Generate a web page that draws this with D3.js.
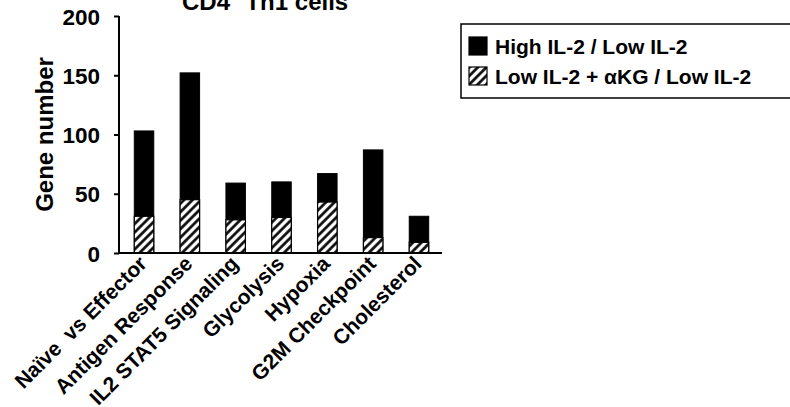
<!DOCTYPE html>
<html>
<head>
<meta charset="utf-8">
<script src="https://cdn.jsdelivr.net/npm/d3@7"></script>
<style>
  html, body { margin: 0; padding: 0; background: #fff; }
  svg { display: block; font-family: "Liberation Sans", Arial, sans-serif; font-weight: bold; }
</style>
</head>
<body>
<svg id="chart" width="790" height="407"></svg>
<script>
// Gene-set categories and gene counts per comparison
const categories = ["Naïve  vs Effector", "Antigen Response", "IL2 STAT5 Signaling", "Glycolysis", "Hypoxia", "G2M Checkpoint", "Cholesterol"];
const highVsLow = [103, 152, 59, 60, 67, 87, 31];
const akgVsLow = [31, 45, 28, 30, 43, 13, 9];
const seriesNames = ["High IL-2 / Low IL-2", "Low IL-2 + αKG / Low IL-2"];
const yTicks = [0, 50, 100, 150, 200];

const svg = d3.select("#chart");

// hatch fill for the αKG series
const defs = svg.append("defs");
const pat = defs.append("pattern")
  .attr("id", "hatch")
  .attr("patternUnits", "userSpaceOnUse")
  .attr("width", 6).attr("height", 6)
  .attr("patternTransform", "rotate(45)");
pat.append("rect").attr("width", 6).attr("height", 6).attr("fill", "#fff");
pat.append("line").attr("x1", 1.5).attr("y1", 0).attr("x2", 1.5).attr("y2", 6)
  .attr("stroke", "#000").attr("stroke-width", 2.6);

const x = d3.scaleBand().domain(categories).range([121, 442]).paddingInner(0.575).paddingOuter(0.29);
const y = d3.scaleLinear().domain([0, 200]).range([253, 16]);

// title (partly above the top edge)
const title = svg.append("text").attr("x", 182).attr("y", 9.5).attr("font-size", 24);
title.append("tspan").text("CD4");
title.append("tspan").attr("dy", -9).attr("font-size", 15).text("+");
title.append("tspan").attr("dy", 9).text(" Th1 cells");

// bars: total count in black, αKG count hatched from the baseline
const g = svg.append("g");
g.selectAll("rect.high").data(categories).join("rect")
  .attr("class", "high")
  .attr("x", d => x(d)).attr("width", x.bandwidth())
  .attr("y", (d, i) => y(highVsLow[i])).attr("height", (d, i) => y(0) - y(highVsLow[i]))
  .attr("fill", "#000").attr("stroke", "#000").attr("stroke-width", 1);
g.selectAll("rect.akg").data(categories).join("rect")
  .attr("class", "akg")
  .attr("x", d => x(d)).attr("width", x.bandwidth())
  .attr("y", (d, i) => y(akgVsLow[i])).attr("height", (d, i) => y(0) - y(akgVsLow[i]))
  .attr("fill", "url(#hatch)").attr("stroke", "#000").attr("stroke-width", 1.2);

// y axis
const yAxis = svg.append("g").attr("transform", "translate(119,0)")
  .call(d3.axisLeft(y).tickValues(yTicks).tickSize(5).tickPadding(14));
yAxis.select(".domain").attr("stroke-width", 2).attr("d", `M0,${y(200)}V${y(0)}`);
yAxis.selectAll(".tick line").attr("stroke-width", 2);
yAxis.selectAll(".tick text").attr("font-size", 22.5).attr("font-family", "Liberation Sans, Arial, sans-serif")
  .attr("font-weight", "bold").attr("fill", "#000").attr("dy", "0.36em");

// x axis
const xAxis = svg.append("g").attr("transform", `translate(0,${y(0)})`)
  .call(d3.axisBottom(x).tickSize(0).tickPadding(0));
xAxis.select(".domain").attr("stroke-width", 2).attr("d", "M118,0H442");
xAxis.selectAll(".tick text")
  .attr("font-size", 21).attr("font-family", "Liberation Sans, Arial, sans-serif")
  .attr("font-weight", "bold").attr("fill", "#000")
  .attr("text-anchor", "end").attr("dy", 0).attr("y", 0)
  .attr("transform", "translate(4,12) rotate(-45)")
  .style("white-space", "pre");

// y axis title
svg.append("text")
  .attr("transform", `translate(53,${(y(0) + y(200)) / 2}) rotate(-90)`)
  .attr("text-anchor", "middle").attr("font-size", 24).text("Gene number");

// legend
const lg = svg.append("g");
lg.append("rect").attr("x", 461).attr("y", 24).attr("width", 360).attr("height", 74)
  .attr("fill", "none").attr("stroke", "#000").attr("stroke-width", 1.5);
const fills = ["#000", "url(#hatch)"];
seriesNames.forEach((name, i) => {
  const yy = 37 + i * 30;
  lg.append("rect").attr("x", 469).attr("y", yy).attr("width", 18).attr("height", 18)
    .attr("fill", fills[i]).attr("stroke", "#000").attr("stroke-width", 1.2);
  lg.append("text").attr("x", 495).attr("y", yy + 17).attr("font-size", 21).text(name);
});
</script>
</body>
</html>
